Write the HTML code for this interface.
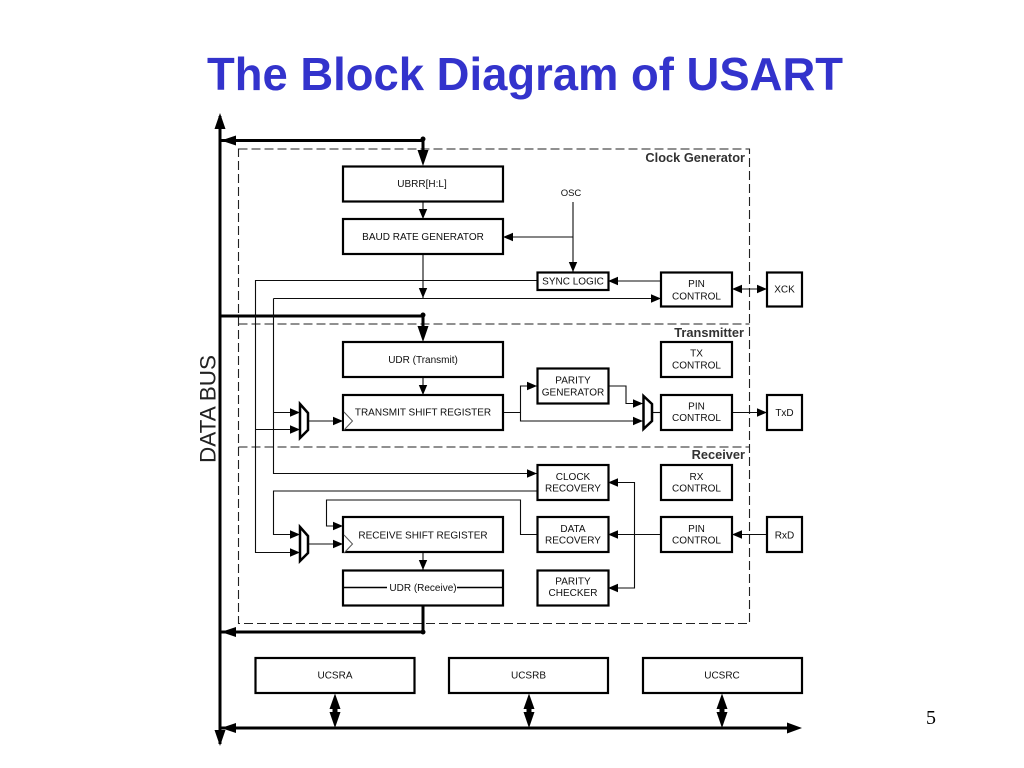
<!DOCTYPE html>
<html>
<head>
<meta charset="utf-8">
<style>
html,body{margin:0;padding:0;background:#fff;width:1024px;height:768px;overflow:hidden}
svg{display:block}
text{font-family:"Liberation Sans",sans-serif;fill:#111}
.l{font-size:10px;text-anchor:middle}
.h{font-size:12.800px;font-weight:bold;text-anchor:end;fill:#333}
.b{fill:none;stroke:#000;stroke-width:2.200}
.t{fill:none;stroke:#111;stroke-width:1.100}
.k{fill:none;stroke:#000;stroke-width:3}
.d{fill:none;stroke:#222;stroke-width:1.100;stroke-dasharray:9 4}
</style>
</head>
<body>
<svg width="1024" height="768" viewBox="0 0 1024 768" xmlns="http://www.w3.org/2000/svg">
<defs>
<marker id="a" markerUnits="userSpaceOnUse" markerWidth="10" markerHeight="10" refX="10" refY="5" orient="auto"><path d="M0 .8L10 5L0 9.200z" fill="#000"/></marker>
<marker id="s" markerUnits="userSpaceOnUse" markerWidth="10" markerHeight="10" refX="0" refY="5" orient="auto"><path d="M10 .8L0 5L10 9.200z" fill="#000"/></marker>
<filter id="soft" filterUnits="userSpaceOnUse" x="0" y="0" width="1024" height="768"><feGaussianBlur stdDeviation="0.300"/></filter>
</defs>

<text x="525" y="90" text-anchor="middle" style="font-size:46px;font-weight:bold;fill:#3333cc" textLength="636" lengthAdjust="spacingAndGlyphs">The Block Diagram of USART</text>
<text x="931" y="724" text-anchor="middle" style="font-family:'Liberation Serif',serif;font-size:20px;fill:#000">5</text>

<g filter="url(#soft)">
<!-- dashed -->
<rect x="238.500" y="149" width="511" height="474.500" class="d"/>
<path d="M238.500 324H749.500M238.500 447H749.500" class="d"/>

<!-- data bus -->
<path d="M220 116V744" class="k"/>
<path d="M220 113L225.500 129H214.500z M220 746L225.500 730H214.500z" fill="#000"/>
<path d="M221 140.500H423V152M221 316H423V328M423 606V632H221M221 728H790" class="k"/>
<path d="M221 140.500L236 135.500V145.500z M423 166L417.500 150H428.500z M423 342L417.500 326H428.500z M221 632L236 627V637z M221 728L236 723V733z M802 728L787 722.500V733.500z" fill="#000"/>
<circle cx="423" cy="139" r="2.500"/><circle cx="423" cy="315" r="2.500"/><circle cx="423" cy="632" r="2.500"/>
<text transform="translate(215.500,409) rotate(-90)" text-anchor="middle" style="font-size:22px;fill:#222" textLength="108" lengthAdjust="spacingAndGlyphs">DATA BUS</text>

<!-- double thick arrows -->
<path d="M335 693.500L340.500 709H329.500z M335 728L340.500 712H329.500z M529 693.500L534.500 709H523.500z M529 728L534.500 712H523.500z M722 693.500L727.500 709H716.500z M722 728L727.500 712H716.500z" fill="#000"/>
<path d="M335 705V716M529 705V716M722 705V716" stroke="#000" stroke-width="5" fill="none"/>

<!-- thin connectors -->
<path d="M423 201.500V219" class="t" marker-end="url(#a)"/>
<path d="M423 254V298" class="t" marker-end="url(#a)"/>
<path d="M423 377V395" class="t" marker-end="url(#a)"/>
<path d="M423 552V570" class="t" marker-end="url(#a)"/>
<path d="M573 202V272" class="t" marker-end="url(#a)"/>
<path d="M573 237H503" class="t" marker-end="url(#a)"/>
<path d="M537 280.500H255.500V552.500H300" class="t" marker-end="url(#a)"/>
<path d="M255.500 429.500H300" class="t" marker-end="url(#a)"/>
<path d="M273.500 298.500H661" class="t" marker-end="url(#a)"/>
<path d="M661 281H608" class="t" marker-end="url(#a)"/>
<path d="M273.500 298.500V473.500H537" class="t" marker-end="url(#a)"/>
<path d="M273.500 412.500H300" class="t" marker-end="url(#a)"/>
<path d="M537 491H273.500V534.500H300" class="t" marker-end="url(#a)"/>
<path d="M308 421H343" class="t" marker-end="url(#a)"/>
<path d="M308 544H343" class="t" marker-end="url(#a)"/>
<path d="M537 534.500H520.500V500H326.500V526H343" class="t" marker-end="url(#a)"/>
<path d="M503 412.500H520.500V386H537" class="t" marker-end="url(#a)"/>
<path d="M520.500 412.500V421H643" class="t" marker-end="url(#a)"/>
<path d="M608 386H626V403.500H643" class="t" marker-end="url(#a)"/>
<path d="M652 412.500H661" class="t"/>
<path d="M732 412.500H767" class="t" marker-end="url(#a)"/>
<path d="M732 289H767" class="t" marker-start="url(#s)" marker-end="url(#a)"/>
<path d="M767 534.500H732" class="t" marker-end="url(#a)"/>
<path d="M661 534.500H608" class="t" marker-end="url(#a)"/>
<path d="M608 588H634.500V482.500H608" class="t" marker-end="url(#a)"/>
<path d="M634.500 588H608" class="t" marker-end="url(#a)"/>

<!-- muxes -->
<path d="M300 404L308 413V430L300 438z" fill="#fff" stroke="#000" stroke-width="2.500"/>
<path d="M300 527L308 536V553L300 561z" fill="#fff" stroke="#000" stroke-width="2.500"/>
<path d="M643.500 396L652 404V421L643.500 429z" fill="#fff" stroke="#000" stroke-width="2.500"/>

<!-- boxes -->
<g fill="#fff">
<rect x="343" y="166.500" width="160" height="35" class="b"/>
<rect x="343" y="219" width="160" height="35" class="b"/>
<rect x="343" y="342" width="160" height="35" class="b"/>
<rect x="343" y="395" width="160" height="35" class="b"/>
<rect x="343" y="517" width="160" height="35" class="b"/>
<rect x="343" y="570.500" width="160" height="35" class="b"/>
<rect x="255.500" y="658" width="159" height="35" class="b"/>
<rect x="449" y="658" width="159" height="35" class="b"/>
<rect x="643" y="658" width="159" height="35" class="b"/>
<rect x="537.500" y="272.500" width="71" height="17.500" class="b"/>
<rect x="661" y="272.500" width="71" height="34" class="b"/>
<rect x="767" y="272.500" width="35" height="34" class="b"/>
<rect x="661" y="342" width="71" height="35" class="b"/>
<rect x="537.500" y="368.500" width="71" height="35" class="b"/>
<rect x="661" y="395" width="71" height="35" class="b"/>
<rect x="767" y="395" width="35" height="35" class="b"/>
<rect x="537.500" y="465" width="71" height="35" class="b"/>
<rect x="661" y="465" width="71" height="35" class="b"/>
<rect x="537.500" y="517" width="71" height="35" class="b"/>
<rect x="661" y="517" width="71" height="35" class="b"/>
<rect x="767" y="517" width="35" height="35" class="b"/>
<rect x="537.500" y="570.500" width="71" height="35" class="b"/>
</g>
<path d="M344 412L352.500 421L344 430M344 535L352.500 544L344 553" fill="#fff" stroke="#555" stroke-width="1"/>
<path d="M343.500 587.500H387M457 587.500H502.500" stroke="#000" stroke-width="1.500" fill="none"/>

<!-- section labels -->
<text x="745" y="162" class="h">Clock Generator</text>
<text x="744" y="337" class="h">Transmitter</text>
<text x="745" y="459" class="h">Receiver</text>

<!-- labels -->
<text x="422" y="187" class="l">UBRR[H:L]</text>
<text x="423" y="240" class="l">BAUD RATE GENERATOR</text>
<text x="571" y="196" class="l" style="font-size:9.500px">OSC</text>
<text x="573" y="284.500" class="l">SYNC LOGIC</text>
<text x="696.500" y="287" class="l">PIN</text>
<text x="696.500" y="299.500" class="l">CONTROL</text>
<text x="784.500" y="292.500" class="l">XCK</text>
<text x="423" y="363" class="l">UDR (Transmit)</text>
<text x="696.500" y="356.500" class="l">TX</text>
<text x="696.500" y="368.500" class="l">CONTROL</text>
<text x="573" y="383.500" class="l">PARITY</text>
<text x="573" y="395.500" class="l">GENERATOR</text>
<text x="423" y="415.500" class="l">TRANSMIT SHIFT REGISTER</text>
<text x="696.500" y="409.500" class="l">PIN</text>
<text x="696.500" y="421" class="l">CONTROL</text>
<text x="784.500" y="416" class="l">TxD</text>
<text x="573" y="480" class="l">CLOCK</text>
<text x="573" y="491.500" class="l">RECOVERY</text>
<text x="696.500" y="480" class="l">RX</text>
<text x="696.500" y="491.500" class="l">CONTROL</text>
<text x="423" y="538.500" class="l">RECEIVE SHIFT REGISTER</text>
<text x="573" y="532" class="l">DATA</text>
<text x="573" y="543.500" class="l">RECOVERY</text>
<text x="696.500" y="532" class="l">PIN</text>
<text x="696.500" y="543.500" class="l">CONTROL</text>
<text x="784.500" y="538.500" class="l">RxD</text>
<text x="423" y="591" class="l">UDR (Receive)</text>
<text x="573" y="584.500" class="l">PARITY</text>
<text x="573" y="596" class="l">CHECKER</text>
<text x="335" y="678.500" class="l">UCSRA</text>
<text x="528.500" y="678.500" class="l">UCSRB</text>
<text x="722" y="678.500" class="l">UCSRC</text>
</g>
</svg>
</body>
</html>
